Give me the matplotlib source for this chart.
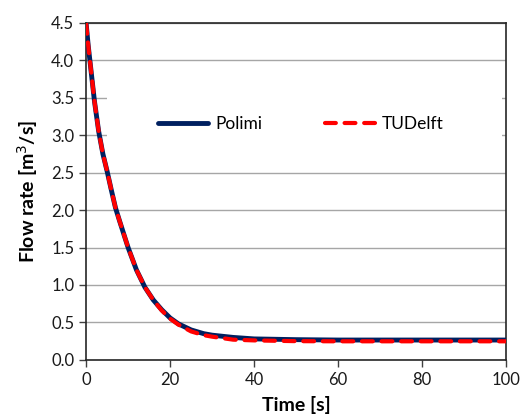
import matplotlib.pyplot as plt
from matplotlib.patches import Rectangle

plt.rcParams['font.family'] = ['Lato', 'DejaVu Sans']

# time [s]
t = [0, 0.5, 1, 2, 3, 4, 5, 6, 7, 8, 10, 12, 14, 16, 18, 20, 22, 25, 28, 30,
     35, 40, 50, 60, 70, 80, 90, 100]
polimi = [4.5, 4.2, 3.95, 3.45, 3.05, 2.75, 2.52, 2.27, 2.03, 1.85, 1.5, 1.2,
          0.97, 0.8, 0.67, 0.56, 0.48, 0.40, 0.35, 0.33, 0.30, 0.28, 0.27,
          0.265, 0.265, 0.265, 0.265, 0.265]
tudelft = [4.5, 4.2, 3.95, 3.45, 3.05, 2.75, 2.52, 2.27, 2.03, 1.85, 1.5, 1.2,
           0.97, 0.8, 0.66, 0.55, 0.47, 0.38, 0.33, 0.31, 0.27, 0.26, 0.25,
           0.248, 0.248, 0.248, 0.248, 0.248]

fig = plt.figure(figsize=(5.25, 4.17), dpi=100)
ax = fig.add_axes([0.164, 0.137, 0.8, 0.808])

ax.plot(t, polimi, color='#002060', lw=3.5, solid_capstyle='round',
        label='Polimi', zorder=3)
ax.plot(t, tudelft, color='#FF0000', lw=3, dashes=(2.6, 2.1),
        dash_capstyle='round', label='TUDelft', zorder=4)

# white box behind the legend, hides the grid there
ax.add_patch(Rectangle((0.05, 2.8 / 4.5), 0.94, 0.8 / 4.5,
                       transform=ax.transAxes, facecolor='white',
                       edgecolor='none', zorder=1))

ax.set_xlim(0, 100)
ax.set_ylim(0, 4.5)
ax.set_xticks(range(0, 101, 20))
ax.set_yticks([i * 0.5 for i in range(10)])
ax.set_yticklabels([f'{i * 0.5:.1f}' for i in range(10)])
ax.tick_params(labelsize=12, length=5, width=1, color='#404040',
               labelcolor='#1a1a1a')
ax.set_axisbelow(True)
ax.yaxis.grid(True, color='#A6A6A6', lw=1)
for s in ax.spines.values():
    s.set_color('#262626')
    s.set_linewidth(1.2)

ax.set_xlabel('Time [s]', fontsize=14, fontweight='bold', labelpad=6)
ax.set_ylabel('Flow rate [m$^3$/s]', fontsize=14, fontweight='bold',
              labelpad=8)

ax.legend(loc='center left', bbox_to_anchor=(0.171, 0.70), ncol=2,
          frameon=False, fontsize=12.5, handlelength=2.9,
          handletextpad=0.4, columnspacing=3.6, borderpad=0,
          borderaxespad=0)

plt.savefig('out.png')
plt.close()
